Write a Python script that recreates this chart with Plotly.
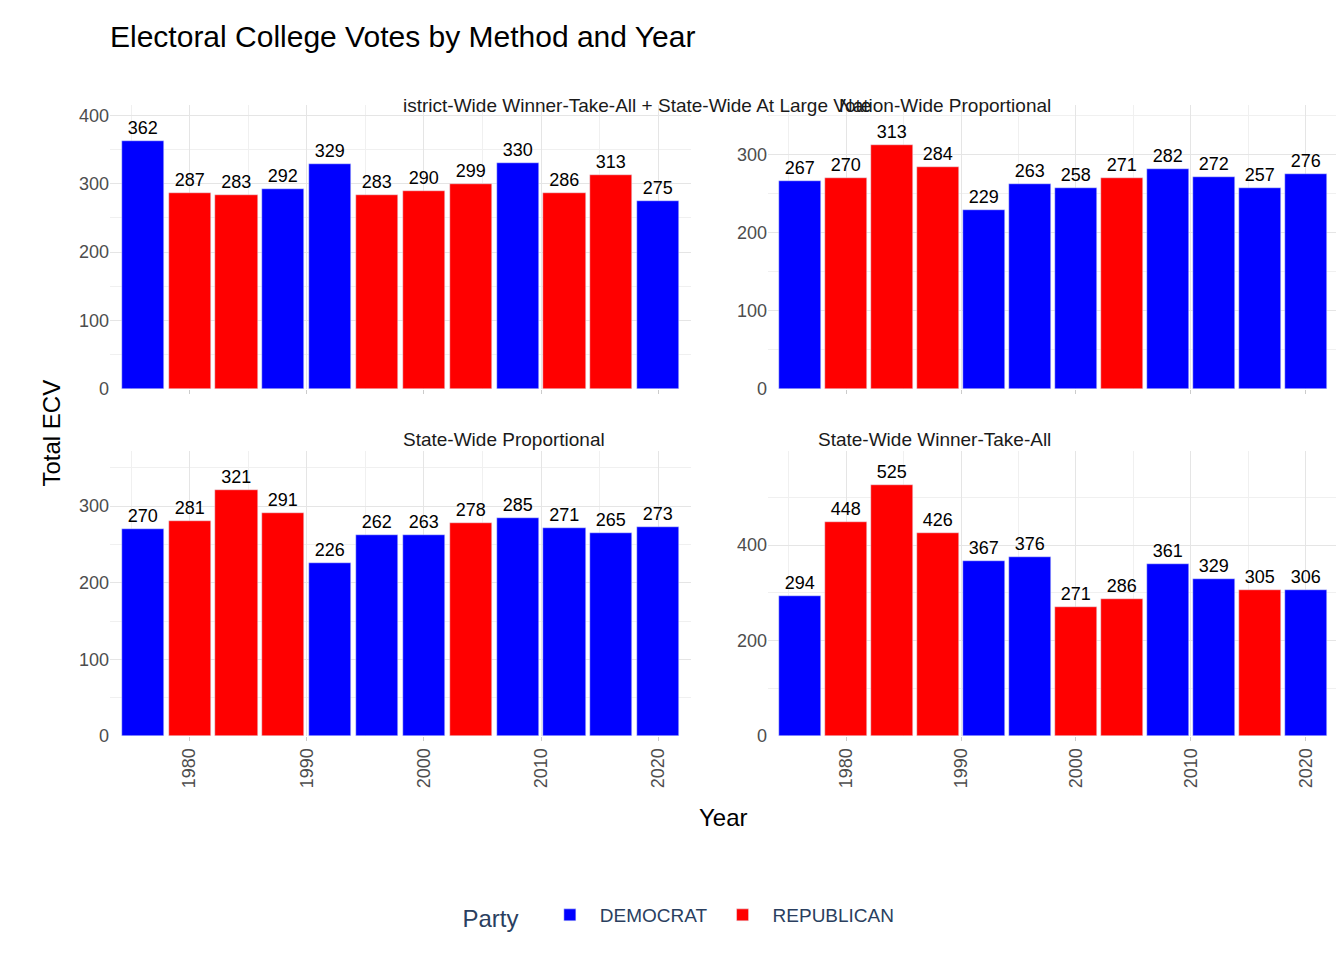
import plotly.graph_objects as go

years = [1976, 1980, 1984, 1988, 1992, 1996, 2000, 2004, 2008, 2012, 2016, 2020]

district_votes = [362, 287, 283, 292, 329, 283, 290, 299, 330, 286, 313, 275]
district_party = ["D", "R", "R", "D", "D", "R", "R", "R", "D", "R", "R", "D"]

nation_votes = [267, 270, 313, 284, 229, 263, 258, 271, 282, 272, 257, 276]
nation_party = ["D", "R", "R", "R", "D", "D", "D", "R", "D", "D", "D", "D"]

stateprop_votes = [270, 281, 321, 291, 226, 262, 263, 278, 285, 271, 265, 273]
stateprop_party = ["D", "R", "R", "R", "D", "D", "D", "R", "D", "D", "D", "D"]

wta_votes = [294, 448, 525, 426, 367, 376, 271, 286, 361, 329, 305, 306]
wta_party = ["D", "R", "R", "R", "D", "D", "R", "R", "D", "D", "R", "D"]

panels = [
    ("istrict-Wide Winner-Take-All + State-Wide At Large Vote", district_votes, district_party, 415, 100),
    ("Nation-Wide Proportional", nation_votes, nation_party, 364, 100),
    ("State-Wide Proportional", stateprop_votes, stateprop_party, 372, 100),
    ("State-Wide Winner-Take-All", wta_votes, wta_party, 597, 200),
]
parties = {"D": ("DEMOCRAT", "#0000FF"), "R": ("REPUBLICAN", "#FF0000")}

W, H = 1344, 960
xdom = [(102 / W, 683 / W), (760 / W, 1330 / W)]
ydom = [(1 - 381 / H, 1 - 97 / H), (1 - 728 / H, 1 - 443 / H)]
font = "Liberation Sans, Arial, sans-serif"

fig = go.Figure()
shown = set()
annotations = []
for n, (title, votes, party, ymax, dtick) in enumerate(panels):
    r, c = divmod(n, 2)
    ax = "" if n == 0 else str(n + 1)
    for p in ["D", "R"]:
        xs = [y for y, q in zip(years, party) if q == p]
        vs = [v for v, q in zip(votes, party) if q == p]
        name, col = parties[p]
        fig.add_trace(go.Bar(
            x=xs, y=vs, width=3.6, name=name, marker_color=col,
            text=vs, textposition="outside", cliponaxis=False,
            textfont=dict(size=18, color="black"),
            showlegend=p not in shown, legendgroup=p,
            xaxis="x" + ax, yaxis="y" + ax))
        shown.add(p)
    fig.layout["xaxis" + ax] = dict(
        domain=xdom[c], anchor="y" + ax, range=[1973.2, 2022.8], automargin=False,
        tickvals=[1980, 1990, 2000, 2010, 2020], showticklabels=(r == 1),
        tickangle=-90, ticks="outside", ticklen=4, tickcolor="#cccccc",
        gridcolor="#e5e5e5", zeroline=False,
        minor=dict(tickvals=[1975, 1985, 1995, 2005, 2015], showgrid=True, gridcolor="#f0f0f0"),
        tickfont=dict(size=18, color="#4d4d4d"))
    fig.layout["yaxis" + ax] = dict(
        domain=ydom[r], anchor="x" + ax, range=[0, ymax], dtick=dtick, automargin=False,
        gridcolor="#e5e5e5", zeroline=False,
        minor=dict(dtick=dtick / 2, showgrid=True, gridcolor="#f0f0f0"),
        tickfont=dict(size=18, color="#4d4d4d"))
    cx = (xdom[c][0] + xdom[c][1]) / 2
    annotations.append(dict(text=title, x=cx, y=1 - (85 if r == 0 else 432) / H,
                            xref="paper", yref="paper", showarrow=False,
                            font=dict(size=19, color="#1a1a1a")))

annotations.append(dict(text="Total ECV", x=28 / W, y=1 - 425 / H, xref="paper", yref="paper",
                        textangle=-90, showarrow=False, font=dict(size=24, color="black")))
annotations.append(dict(text="Year", x=715 / W, y=1 - 825 / H, xref="paper", yref="paper",
                        showarrow=False, font=dict(size=24, color="black")))

fig.update_layout(
    width=W, height=H, plot_bgcolor="white", paper_bgcolor="white",
    margin=dict(l=0, r=0, t=0, b=0), font=dict(family=font),
    title=dict(text="Electoral College Votes by Method and Year", x=102 / W, y=1 - 28 / H,
               xanchor="left", yanchor="middle", automargin=False,
               font=dict(size=30, color="black")),
    annotations=annotations, bargap=0,
    legend=dict(orientation="h", x=0.5, xanchor="center", y=1 - 909 / H, yanchor="middle",
                itemwidth=50,
                title=dict(text="Party  ", font=dict(size=24)), font=dict(size=19)),
)
fig.write_html("out.html")
